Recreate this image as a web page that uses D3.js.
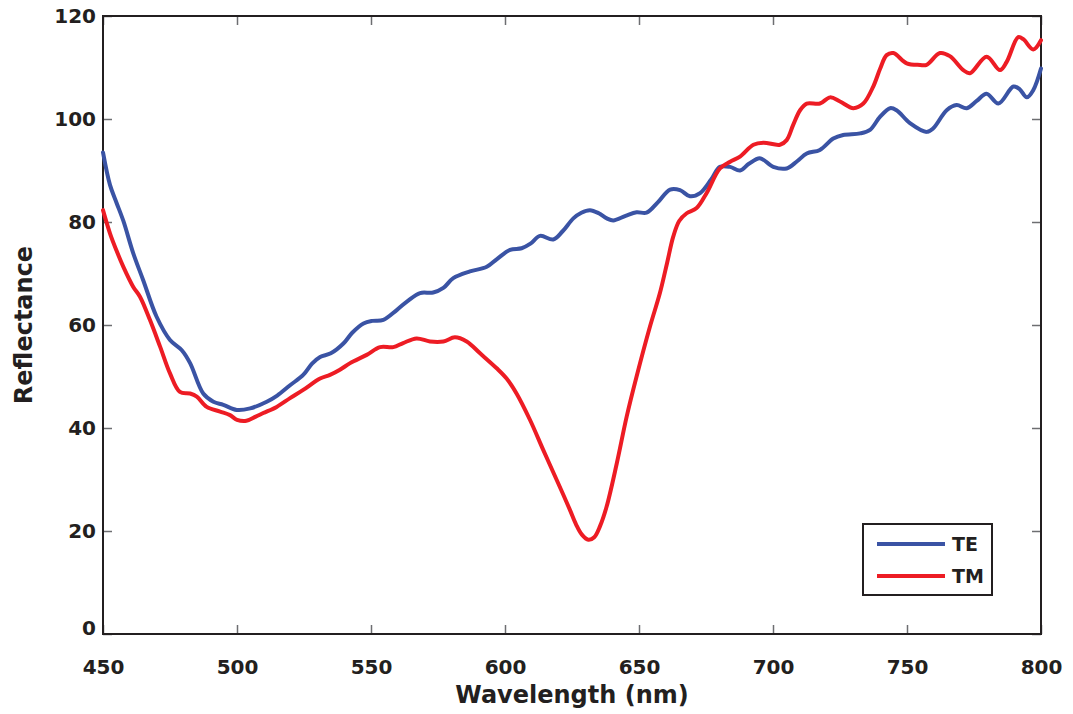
<!DOCTYPE html>
<html>
<head>
<meta charset="utf-8">
<script src="https://cdn.jsdelivr.net/npm/d3@7"></script>
<style>
  html, body { margin: 0; padding: 0; background: #fff; }
  svg { display: block; }
  text { font-family: "DejaVu Sans", Verdana, sans-serif; font-weight: bold; fill: #231f20; }
</style>
</head>
<body>
<svg id="chart" width="1073" height="714"></svg>
<script>
// Reflectance spectra for TE and TM polarisation
const teWavelength = [450, 452.6, 455, 457.6, 461.3, 465, 470, 475, 479.4, 482.5, 487.4, 491.2, 494.9, 499.9, 504.9, 511.1, 515, 519.8, 524.7, 528, 531, 535, 539.7, 543, 547.2, 550.5, 554.6, 559.6, 564, 568.3, 573.2, 577, 580.7, 586.9, 593.2, 597, 601.9, 606.2, 609.5, 613.1, 618, 621.5, 625.5, 628.5, 631.7, 635, 638, 640.4, 645, 649.1, 652.8, 657, 661.6, 665.3, 669, 672.8, 677, 680.2, 684, 687.7, 691, 695.1, 700.1, 705.1, 709, 712.6, 717.5, 722.5, 726.2, 732.5, 736.2, 739.9, 743.7, 746.1, 751.1, 757.3, 759.8, 764.8, 768.5, 772.3, 776, 779.7, 784.1, 789.7, 792, 794.7, 797.1, 800];
const teReflectance = [93.5, 87.2, 83.8, 80.2, 73.9, 68.7, 61.6, 57.1, 55.1, 52.6, 46.7, 45.1, 44.5, 43.5, 43.8, 45.1, 46.3, 48.3, 50.3, 52.5, 53.8, 54.5, 56.4, 58.5, 60.3, 60.8, 61, 62.9, 64.8, 66.2, 66.3, 67.2, 69.1, 70.4, 71.3, 72.8, 74.6, 74.9, 75.8, 77.3, 76.6, 78.2, 80.7, 81.8, 82.3, 81.7, 80.7, 80.3, 81.2, 81.9, 81.8, 83.8, 86.3, 86.2, 85, 85.6, 88.3, 90.7, 90.7, 90, 91.3, 92.4, 90.7, 90.4, 91.8, 93.3, 94, 96.2, 96.9, 97.2, 97.9, 100.4, 102.1, 101.7, 99.2, 97.5, 98.2, 101.7, 102.7, 102.1, 103.5, 104.9, 103, 106.3, 105.8, 104.2, 105.6, 109.8];

const tmWavelength = [450, 452.6, 455, 457.6, 461.3, 463.8, 467.5, 471.3, 475, 478.7, 482.5, 485, 488.7, 493.7, 497.4, 500, 503.5, 507, 509.8, 514.8, 519.8, 524.7, 531, 534.7, 538.4, 542.2, 548.4, 553.4, 558.3, 562, 567, 572, 577, 581.3, 585.7, 590.7, 596.9, 600.6, 604.3, 609.3, 614.3, 619.3, 621.8, 624.3, 626.5, 628.7, 631.1, 633.3, 635.5, 637.9, 641.7, 645.4, 649.1, 654.1, 657.8, 660.5, 662.8, 665, 667.8, 671.5, 675.2, 680.2, 684, 687.7, 692.7, 696.4, 702.6, 705.1, 707.5, 710.1, 712.6, 717.5, 721.3, 725, 730, 733.7, 737.4, 740, 742.4, 744.9, 749.9, 754.9, 757.3, 762.3, 766, 771, 773.5, 779.7, 784.7, 787.2, 791.5, 793.4, 797.1, 800];
const tmReflectance = [82.3, 77.8, 74.5, 71.3, 67.4, 65.5, 61, 55.8, 50.6, 47, 46.7, 46.1, 44.1, 43.2, 42.5, 41.6, 41.4, 42.2, 42.9, 44.1, 45.8, 47.4, 49.6, 50.3, 51.3, 52.6, 54.2, 55.7, 55.7, 56.5, 57.4, 56.8, 56.8, 57.6, 56.8, 54.5, 51.6, 49.6, 46.7, 41.6, 35.7, 29.9, 27, 24, 21.3, 19.3, 18.3, 18.8, 21, 24.7, 33.1, 42.2, 50, 59.7, 66.2, 72.1, 77.2, 80.2, 81.7, 82.7, 85.6, 90.4, 91.7, 92.7, 95, 95.4, 95, 95.9, 98.8, 101.7, 103, 103, 104.2, 103.4, 102.1, 103, 106.3, 109.8, 112.4, 112.8, 110.8, 110.5, 110.5, 112.8, 112.2, 109.5, 108.9, 112.1, 109.5, 111.1, 115.9, 115.5, 113.5, 115.3];

const xTicks = [450, 500, 550, 600, 650, 700, 750, 800];
const yTicks = [0, 20, 40, 60, 80, 100, 120];
const seriesNames = ["TE", "TM"];
const seriesColors = ["#3a53a4", "#ed1c24"];

const svg = d3.select("#chart");
const margin = { left: 103, right: 32, top: 16, bottom: 80 };
const W = 1073, H = 714;
const plotW = W - margin.left - margin.right;
const plotH = H - margin.top - margin.bottom;

const x = d3.scaleLinear().domain([450, 800]).range([0, plotW]);
const y = d3.scaleLinear().domain([0, 120]).range([plotH, 0]);

const g = svg.append("g").attr("transform", `translate(${margin.left},${margin.top})`);

// Inward ticks on all four sides
const tickColor = "#6d6e71";
function styleAxis(sel) {
  sel.select(".domain").remove();
  sel.selectAll(".tick line").attr("stroke", tickColor).attr("stroke-width", 1.5);
}

g.append("g").attr("transform", `translate(0,${plotH})`)
  .call(d3.axisBottom(x).tickValues(xTicks).tickSizeInner(-9).tickSizeOuter(0).tickPadding(26))
  .call(styleAxis)
  .call(s => s.selectAll("text").attr("font-size", 20).attr("fill", "#231f20"));

g.append("g")
  .call(d3.axisTop(x).tickValues(xTicks).tickSizeInner(-9).tickSizeOuter(0).tickFormat(""))
  .call(styleAxis);

g.append("g")
  .call(d3.axisLeft(y).tickValues(yTicks).tickSizeInner(-9).tickSizeOuter(0).tickPadding(7))
  .call(styleAxis)
  .call(s => s.selectAll("text").attr("font-size", 20).attr("fill", "#231f20"))
  .call(s => s.selectAll(".tick").filter(d => d === 0).select("text").attr("dy", "0.02em"));

g.append("g").attr("transform", `translate(${plotW},0)`)
  .call(d3.axisRight(y).tickValues(yTicks).tickSizeInner(-9).tickSizeOuter(0).tickFormat(""))
  .call(styleAxis);

// Plot frame
g.append("rect")
  .attr("x", 0).attr("y", 0).attr("width", plotW).attr("height", plotH)
  .attr("fill", "none").attr("stroke", "#231f20").attr("stroke-width", 2);

// Spectra
const line = d3.line()
  .x(d => x(d[0]))
  .y(d => y(d[1]))
  .curve(d3.curveCatmullRom.alpha(0.5));

const series = [
  d3.zip(teWavelength, teReflectance),
  d3.zip(tmWavelength, tmReflectance)
];

g.selectAll("path.spectrum")
  .data(series)
  .join("path")
  .attr("class", "spectrum")
  .attr("d", line)
  .attr("fill", "none")
  .attr("stroke", (d, i) => seriesColors[i])
  .attr("stroke-width", 4)
  .attr("stroke-linejoin", "round")
  .attr("stroke-linecap", "round");

// Axis titles
svg.append("text")
  .attr("x", margin.left + plotW / 2)
  .attr("y", 703)
  .attr("text-anchor", "middle")
  .attr("font-size", 24)
  .text("Wavelength (nm)");

svg.append("text")
  .attr("transform", `translate(32,${margin.top + plotH / 2}) rotate(-90)`)
  .attr("text-anchor", "middle")
  .attr("font-size", 24)
  .text("Reflectance");

// Legend
const legend = svg.append("g").attr("transform", "translate(863,524)");
legend.append("rect")
  .attr("width", 129).attr("height", 71)
  .attr("fill", "#fff").attr("stroke", "#231f20").attr("stroke-width", 2);
const items = legend.selectAll("g.item")
  .data(seriesNames)
  .join("g")
  .attr("class", "item")
  .attr("transform", (d, i) => `translate(0,${20 + i * 32})`);
items.append("line")
  .attr("x1", 14).attr("x2", 82)
  .attr("stroke", (d, i) => seriesColors[i])
  .attr("stroke-width", 4);
items.append("text")
  .attr("x", 89).attr("dy", "0.36em")
  .attr("font-size", 19)
  .text(d => d);
</script>
</body>
</html>
